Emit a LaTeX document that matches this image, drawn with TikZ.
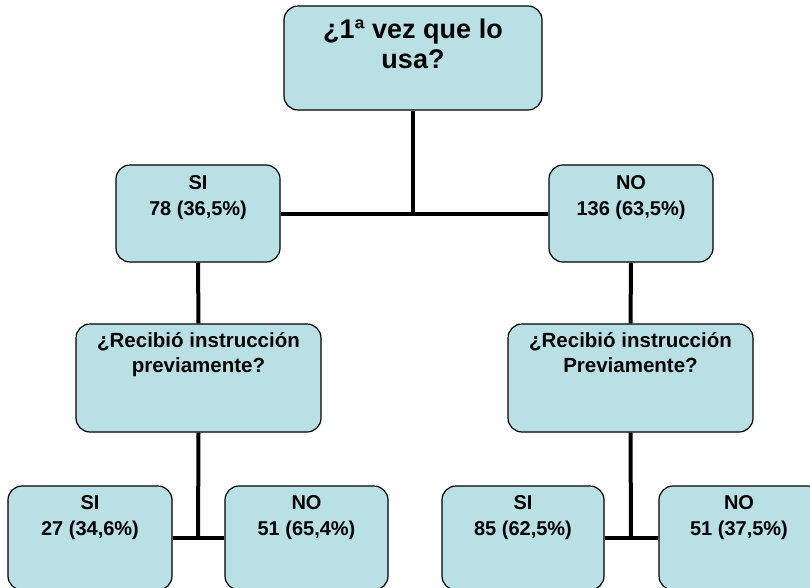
\documentclass[tikz,border=0pt]{standalone}
\usepackage{fontspec}
\setmainfont{Liberation Sans}
\definecolor{boxfill}{RGB}{185,224,228}
\begin{document}
\begin{tikzpicture}[x=1pt,y=-1pt,
  box/.style={draw=black,line width=1.2pt,fill=boxfill,rounded corners=14pt,inner sep=0pt},
  txt/.style={font=\bfseries\fontsize{20}{25.5}\selectfont,align=center,inner sep=0pt,anchor=north},
  qtxt/.style={font=\bfseries\fontsize{20.5}{24.5}\selectfont,align=center,inner sep=0pt,anchor=north},
  bigtxt/.style={font=\bfseries\fontsize{27}{30}\selectfont,align=center,inner sep=0pt,anchor=north},
  conn/.style={line width=4pt,draw=black}]
\useasboundingbox (0,0) rectangle (810,587);
\clip (0,0) rectangle (810,587);
\coordinate (j1) at (413,213);
\coordinate (j2) at (198,538);
\coordinate (j3) at (631,538);
% boxes
\node[box,minimum width=258pt,minimum height=104pt] (top) at (413,58) {};
\node[box,minimum width=164pt,minimum height=97pt] (siA) at (198,213.5) {};
\node[box,minimum width=164pt,minimum height=97pt] (noA) at (631,213.5) {};
\node[box,minimum width=245pt,minimum height=108pt] (qL) at (198.5,378) {};
\node[box,minimum width=245pt,minimum height=108pt] (qR) at (630.5,378) {};
\node[box,minimum width=164pt,minimum height=104pt] (ssL) at (90,538) {};
\node[box,minimum width=163pt,minimum height=104pt] (snL) at (306.5,538) {};
\node[box,minimum width=162pt,minimum height=104pt] (srR) at (523,538) {};
\node[box,minimum width=163pt,minimum height=104pt] (snR) at (740.5,538) {};
% connectors
\draw[conn] (top.south) -- (j1);
\draw[conn] (siA.east) -- (noA.west);
\draw[conn] (siA.south) -- (qL.north);
\draw[conn] (noA.south) -- (qR.north);
\draw[conn] (qL.south) -- (j2);
\draw[conn] (ssL.east) -- (snL.west);
\draw[conn] (qR.south) -- (j3);
\draw[conn] (srR.east) -- (snR.west);
% texts
\node[bigtxt] (topt) at (413,19) {¿1ª vez que lo\\usa?};
\node[txt] (siAt) at (198,175.5) {SI\\78 (36,5\%)};
\node[txt] (noAt) at (631,175.5) {NO\\136 (63,5\%)};
\node[qtxt] (qLt) at (198.5,332.5) {¿Recibió instrucción\\previamente?};
\node[qtxt] (qRt) at (630.5,332.5) {¿Recibió instrucción\\Previamente?};
\node[txt] (ssLt) at (90,495.5) {SI\\27 (34,6\%)};
\node[txt] (snLt) at (306.5,495.5) {NO\\51 (65,4\%)};
\node[txt] (srRt) at (523,495.5) {SI\\85 (62,5\%)};
\node[txt] (snRt) at (739,495.5) {NO\\51 (37,5\%)};
\end{tikzpicture}
\end{document}
